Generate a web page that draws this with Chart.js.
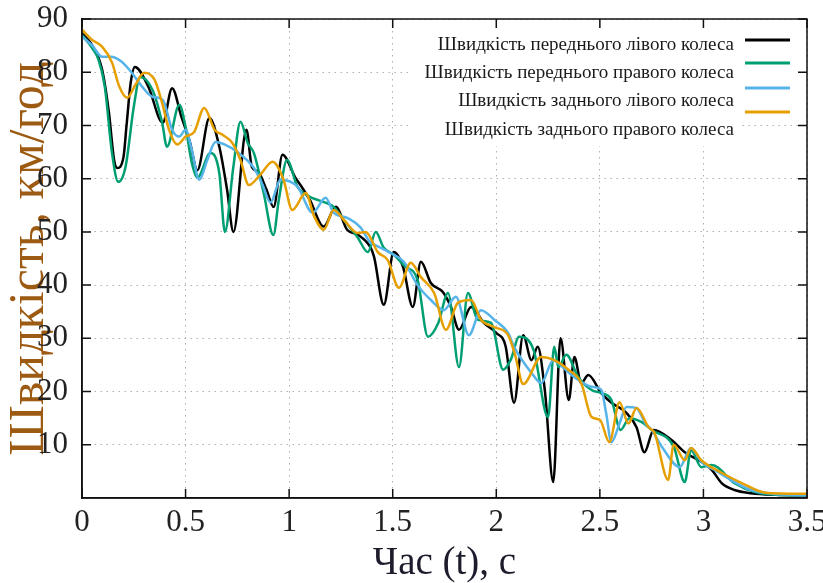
<!DOCTYPE html>
<html>
<head>
<meta charset="utf-8">
<script src="https://cdn.jsdelivr.net/npm/chart.js@4.4.1/dist/chart.umd.min.js"></script>
<style>
  body { margin: 0; background: #fff; }
  canvas { display: block; }
</style>
</head>
<body>
<canvas id="chart" width="823" height="583"></canvas>
<script>
// front left wheel (black)
const flTime = [0, 0.05, 0.097, 0.13, 0.155, 0.17, 0.2, 0.215, 0.235, 0.255, 0.32, 0.39, 0.435, 0.48, 0.52, 0.557, 0.615, 0.663, 0.7, 0.731, 0.794, 0.82, 0.85, 0.89, 0.925, 0.968, 1.03, 1.06, 1.1, 1.167, 1.225, 1.28, 1.33, 1.394, 1.41, 1.457, 1.505, 1.55, 1.597, 1.636, 1.684, 1.742, 1.781, 1.82, 1.878, 1.94, 2.0, 2.045, 2.086, 2.13, 2.17, 2.2, 2.235, 2.275, 2.31, 2.35, 2.377, 2.41, 2.444, 2.507, 2.556, 2.628, 2.677, 2.715, 2.76, 2.846, 2.91, 2.99, 3.04, 3.088, 3.15, 3.23, 3.35, 3.5];
const flSpeed = [87.3, 85, 80.5, 72.4, 63.5, 62, 64, 70, 78, 81, 77.3, 70.5, 77, 71.6, 67, 61.6, 71.4, 66, 58, 50, 69.2, 62.2, 61.3, 58, 54.7, 64.5, 60.2, 58.5, 56, 51, 54.7, 50.4, 49.5, 47, 45.3, 36.3, 46.2, 43.4, 35.9, 44.4, 40.4, 38.7, 35.9, 31.6, 35.9, 32.9, 31, 28.5, 17.9, 30.6, 25.9, 28.4, 20, 3, 30, 18.4, 26.5, 21.6, 23.1, 19.7, 17.9, 16, 13.3, 8.6, 12.8, 10.9, 8.6, 6.8, 5.3, 2.8, 1.5, 0.9, 0.6, 0.5];

// front right wheel (green)
const frTime = [0, 0.05, 0.08, 0.11, 0.145, 0.175, 0.21, 0.25, 0.28, 0.34, 0.387, 0.41, 0.47, 0.5, 0.53, 0.557, 0.62, 0.663, 0.69, 0.73, 0.765, 0.8, 0.83, 0.877, 0.924, 0.95, 0.99, 1.04, 1.1, 1.137, 1.215, 1.263, 1.33, 1.38, 1.418, 1.457, 1.505, 1.56, 1.62, 1.67, 1.72, 1.767, 1.82, 1.863, 1.91, 1.975, 2.033, 2.07, 2.11, 2.18, 2.25, 2.28, 2.3, 2.338, 2.396, 2.46, 2.507, 2.556, 2.6, 2.643, 2.7, 2.75, 2.857, 2.91, 2.94, 2.99, 3.04, 3.15, 3.25, 3.35, 3.5];
const frSpeed = [87, 84.5, 82.3, 77.3, 64.8, 59.4, 62.2, 73.5, 79.1, 76.7, 70.5, 66, 73.9, 69.7, 63, 60.2, 64.8, 61, 50, 62, 70.7, 66.7, 64.8, 57.3, 49.4, 56, 63.5, 58.5, 56.6, 56, 54.7, 52.3, 49, 46.2, 50, 47, 45.7, 43.5, 41, 30.3, 32.9, 38.5, 24.6, 38.5, 33.5, 32.9, 24.1, 26, 30.3, 27.8, 15.2, 28.4, 24.6, 26.9, 22.7, 20.3, 19.7, 18.4, 12.8, 15, 14.3, 12.8, 9.6, 3, 9, 5.8, 6.2, 2.8, 1.1, 0.6, 0.5];

// rear left wheel (light blue)
const rlTime = [0, 0.05, 0.097, 0.14, 0.19, 0.24, 0.29, 0.34, 0.39, 0.435, 0.47, 0.5, 0.53, 0.566, 0.605, 0.644, 0.69, 0.75, 0.83, 0.87, 0.91, 0.958, 1.04, 1.113, 1.176, 1.215, 1.283, 1.345, 1.394, 1.41, 1.49, 1.554, 1.62, 1.684, 1.747, 1.805, 1.868, 1.926, 1.99, 2.057, 2.086, 2.17, 2.217, 2.275, 2.32, 2.377, 2.46, 2.507, 2.53, 2.556, 2.595, 2.628, 2.677, 2.72, 2.75, 2.8, 2.885, 2.94, 2.99, 3.07, 3.15, 3.23, 3.33, 3.5];
const rlSpeed = [86.7, 85, 82.9, 82.9, 82, 79.9, 77.3, 75.4, 74.8, 69.2, 67.9, 69.2, 65.4, 59.8, 63.5, 66.9, 66.4, 65, 62, 59, 55.5, 59.8, 58.5, 53.6, 56.4, 53.6, 52.6, 50.8, 47.9, 47.6, 46, 44.4, 40, 37.2, 35.3, 37.8, 30.6, 35.3, 33.5, 31, 28.4, 23.5, 21.6, 25.9, 24.6, 22.7, 20.9, 20.3, 16, 10.5, 14, 17.1, 16.9, 14, 12.8, 9.6, 5.8, 9.4, 6.8, 4.9, 3, 1.5, 0.8, 0.5];

// rear right wheel (orange)
const rrTime = [0, 0.048, 0.097, 0.145, 0.18, 0.218, 0.257, 0.3, 0.35, 0.387, 0.42, 0.46, 0.5, 0.542, 0.59, 0.64, 0.68, 0.726, 0.765, 0.805, 0.86, 0.92, 0.973, 1.015, 1.08, 1.12, 1.167, 1.215, 1.27, 1.33, 1.37, 1.428, 1.476, 1.53, 1.587, 1.636, 1.7, 1.757, 1.815, 1.878, 1.926, 1.99, 2.057, 2.09, 2.13, 2.217, 2.28, 2.348, 2.41, 2.46, 2.5, 2.546, 2.595, 2.638, 2.677, 2.735, 2.764, 2.83, 2.856, 2.91, 2.94, 2.99, 3.09, 3.185, 3.3, 3.5];
const rrSpeed = [88, 86.1, 84.8, 81.8, 77.3, 75.2, 77.6, 79.9, 78.6, 74.2, 69.2, 66.4, 67.9, 68.8, 73.3, 69.2, 68.2, 66.7, 63.5, 58.8, 60.7, 63.2, 59.8, 54.1, 57.3, 53, 50.4, 54.1, 52, 49.8, 50, 46.2, 44.7, 39.5, 44.2, 41.5, 38.5, 31.6, 36.7, 37.2, 33.5, 32.1, 30.6, 27, 21.4, 26.5, 25.9, 24.1, 21.6, 15.2, 14.7, 10.5, 18, 14, 16.9, 13.3, 12.2, 3.4, 10, 7.1, 9.4, 7.1, 4.7, 2.8, 1, 0.8];

const seriesNames = [
  "Швидкість переднього лівого колеса",
  "Швидкість переднього правого колеса",
  "Швидкість заднього лівого колеса",
  "Швидкість заднього правого колеса"
];
const seriesColors = ["#000000", "#009e73", "#56b4e9", "#e69f00"];
const xTicks = [0, 0.5, 1, 1.5, 2, 2.5, 3, 3.5];
const yTicks = [10, 20, 30, 40, 50, 60, 70, 80, 90];

const serif = "'Liberation Serif', 'Times New Roman', serif";

const pts = (ts, vs) => ts.map((t, i) => ({ x: t, y: vs[i] }));
const allData = [pts(flTime, flSpeed), pts(frTime, frSpeed), pts(rlTime, rlSpeed), pts(rrTime, rrSpeed)];

// border with inward ticks on all sides
const framePlugin = {
  id: "frame",
  afterDatasetsDraw(chart) {
    const { ctx, chartArea: a, scales } = chart;
    ctx.save();
    ctx.strokeStyle = "#111";
    ctx.lineWidth = 1.5;
    ctx.strokeRect(a.left, a.top, a.right - a.left, a.bottom - a.top);
    ctx.beginPath();
    xTicks.forEach(v => {
      const px = scales.x.getPixelForValue(v);
      ctx.moveTo(px, a.bottom); ctx.lineTo(px, a.bottom - 9);
      ctx.moveTo(px, a.top); ctx.lineTo(px, a.top + 9);
    });
    yTicks.forEach(v => {
      const py = scales.y.getPixelForValue(v);
      ctx.moveTo(a.left, py); ctx.lineTo(a.left + 9, py);
      ctx.moveTo(a.right, py); ctx.lineTo(a.right - 9, py);
    });
    ctx.stroke();
    ctx.restore();
  }
};

// opaque key box in the top right corner
const keyPlugin = {
  id: "key",
  beforeDatasetsDraw(chart) {
    const { ctx, chartArea: a } = chart;
    ctx.save();
    ctx.fillStyle = "#fff";
    ctx.fillRect(a.left + 326, a.top + 9, a.right - a.left - 327, 92);
    ctx.fillRect(a.left + 326, a.top + 100, a.right - a.left - 392, 27);
    ctx.restore();
  },
  afterDraw(chart) {
    const { ctx, chartArea: a } = chart;
    const textY = [26, 54, 82, 111];
    const lineY = [21, 44, 69, 93];
    ctx.save();
    ctx.font = "19px " + serif;
    ctx.fillStyle = "#1a1a1a";
    ctx.textAlign = "right";
    ctx.textBaseline = "middle";
    seriesNames.forEach((name, i) => {
      ctx.fillText(name, a.right - 73, a.top + textY[i]);
      ctx.strokeStyle = seriesColors[i];
      ctx.lineWidth = 3;
      ctx.beginPath();
      ctx.moveTo(a.right - 62, a.top + lineY[i]);
      ctx.lineTo(a.right - 17, a.top + lineY[i]);
      ctx.stroke();
    });
    ctx.restore();
  }
};

new Chart(document.getElementById("chart"), {
  type: "line",
  data: {
    datasets: allData.map((d, i) => ({
      label: seriesNames[i],
      data: d,
      borderColor: seriesColors[i],
      borderWidth: 2.5,
      pointRadius: 0,
      cubicInterpolationMode: "monotone",
      order: 4 - i
    }))
  },
  options: {
    responsive: false,
    animation: false,
    layout: { padding: { top: 19, right: 16, left: 0, bottom: 0 } },
    plugins: { legend: { display: false }, tooltip: { enabled: false } },
    scales: {
      x: {
        type: "linear",
        min: 0,
        max: 3.5,
        afterBuildTicks: s => { s.ticks = xTicks.map(v => ({ value: v })); },
        afterFit: s => { s.height = 85; s.paddingLeft = 0; s.paddingRight = 0; },
        ticks: {
          color: "#222",
          font: { family: serif, size: 31 },
          padding: 6,
          maxRotation: 0,
          callback: v => String(v)
        },
        grid: { color: "#b0b0b0", lineWidth: 1, drawTicks: false },
        border: { color: "#111", width: 1.5, dash: [1.5, 4.5] },
        title: {
          display: true,
          text: "Час (t), с",
          color: "#1c1c2c",
          font: { family: serif, size: 39 },
          padding: { top: 0, bottom: -4 }
        }
      },
      y: {
        min: 0,
        max: 90,
        afterBuildTicks: s => { s.ticks = yTicks.map(v => ({ value: v })); },
        afterFit: s => { s.width = 82; s.paddingTop = 0; s.paddingBottom = 0; },
        ticks: {
          color: "#222",
          font: { family: serif, size: 31 },
          padding: 14
        },
        grid: { color: "#b0b0b0", lineWidth: 1, drawTicks: false },
        border: { color: "#111", width: 1.5, dash: [1.5, 4.5] },
        title: {
          display: true,
          text: "Швидкість, км/год",
          color: "#9c5a12",
          font: { family: serif, size: 50 },
          padding: { top: 0, bottom: 0 }
        }
      }
    }
  },
  plugins: [framePlugin, keyPlugin]
});
</script>
</body>
</html>
